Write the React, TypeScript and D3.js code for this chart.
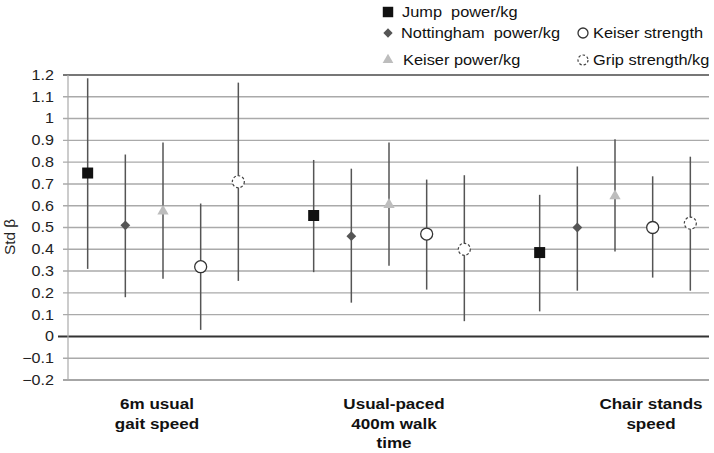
import * as d3 from "d3";

const categories = ["6m usual gait speed", "Usual-paced 400m walk time", "Chair stands speed"];
const categoryLines = [["6m usual", "gait speed"], ["Usual-paced", "400m walk", "time"], ["Chair stands", "speed"]];
const seriesNames = ["Jump  power/kg", "Nottingham  power/kg", "Keiser power/kg", "Keiser strength", "Grip strength/kg"];

const jumpEst = [0.75, 0.555, 0.385];
const jumpLo = [0.31, 0.295, 0.115];
const jumpHi = [1.185, 0.81, 0.65];
const nottEst = [0.51, 0.46, 0.5];
const nottLo = [0.18, 0.155, 0.21];
const nottHi = [0.835, 0.77, 0.78];
const kpEst = [0.575, 0.605, 0.645];
const kpLo = [0.265, 0.325, 0.39];
const kpHi = [0.89, 0.89, 0.905];
const ksEst = [0.32, 0.47, 0.5];
const ksLo = [0.03, 0.215, 0.27];
const ksHi = [0.61, 0.72, 0.735];
const gripEst = [0.71, 0.4, 0.52];
const gripLo = [0.255, 0.07, 0.21];
const gripHi = [1.165, 0.74, 0.825];

const yTicks = [-0.2, -0.1, 0, 0.1, 0.2, 0.3, 0.4, 0.5, 0.6, 0.7, 0.8, 0.9, 1, 1.1, 1.2];

const series = [
  { name: seriesNames[0], est: jumpEst, lo: jumpLo, hi: jumpHi },
  { name: seriesNames[1], est: nottEst, lo: nottLo, hi: nottHi },
  { name: seriesNames[2], est: kpEst, lo: kpLo, hi: kpHi },
  { name: seriesNames[3], est: ksEst, lo: ksLo, hi: ksHi },
  { name: seriesNames[4], est: gripEst, lo: gripLo, hi: gripHi },
];

const font = "'Liberation Sans', Arial, Helvetica, sans-serif";

function Marker({ i, x, y, legend = false }: { i: number; x: number; y: number; legend?: boolean }) {
  const k = legend ? 0.95 : 1;
  if (i === 0) {
    const p = d3.symbol(d3.symbolSquare, 121 * k * k)();
    return <path d={p || ""} transform={`translate(${x},${y})`} fill="#111" />;
  }
  if (i === 1) {
    const p = d3.symbol(d3.symbolSquare, 48 * k * k)();
    return <path d={p || ""} transform={`translate(${x},${y}) rotate(45)`} fill="#555" />;
  }
  if (i === 2) {
    const p = d3.symbol(d3.symbolTriangle, 55 * k * k)();
    return <path d={p || ""} transform={`translate(${x},${y})`} fill="#bdbdbd" />;
  }
  if (i === 3) {
    return <circle cx={x} cy={y} r={legend ? 5 : 6} fill="#fff" stroke="#333" strokeWidth={1.3} />;
  }
  return (
    <circle cx={x} cy={y} r={legend ? 5 : 6} fill="#fff" stroke="#444" strokeWidth={1.2} strokeDasharray="2.5,2" />
  );
}

export default function App() {
  const width = 714;
  const height = 453;
  const plotLeft = 68;
  const plotRight = 709;

  const y = d3.scaleLinear().domain([-0.2, 1.2]).range([380, 75]);
  const xGroup = d3.scaleBand().domain(categories).range([50, 728]);
  const xSeries = d3.scalePoint().domain(seriesNames).range([0, xGroup.bandwidth()]).padding(1);

  // category label anchors (layout)
  const labelX = [157, 394, 651];

  const legendItems = [
    { i: 0, x: 388, y: 12 },
    { i: 1, x: 388, y: 33 },
    { i: 2, x: 388, y: 60 },
    { i: 3, x: 583, y: 33 },
    { i: 4, x: 583, y: 60 },
  ];
  const legendTextX = [402, 401, 403, 593, 593];

  return (
    <svg width={width} height={height} style={{ position: "absolute", left: 0, top: 0, background: "#fff" }} fontFamily={font}>
      {yTicks.map((t) => {
        const isZero = Math.abs(t) < 1e-9;
        const isTop = Math.abs(t - 1.2) < 1e-9;
        const isBottom = Math.abs(t + 0.2) < 1e-9;
        return (
          <g key={t}>
            <line
              x1={isZero ? 58 : 63}
              x2={plotRight}
              y1={y(t)}
              y2={y(t)}
              stroke={isZero ? "#333" : isTop ? "#777" : isBottom ? "#888" : "#aaa"}
              strokeWidth={isZero || isTop ? 2 : 1.4}
            />
            <text
              transform={`translate(54,${y(t)}) scale(1.15,1)`}
              dy="0.35em"
              textAnchor="end"
              fontSize={14}
              fill="#222"
            >
              {d3.format("")(Math.round(t * 10) / 10)}
            </text>
          </g>
        );
      })}
      <line x1={plotLeft} x2={plotLeft} y1={75} y2={380} stroke="#aaa" strokeWidth={1.2} />
      <text transform={`translate(15,237) rotate(-90) scale(1.1,1)`} textAnchor="middle" fontSize={14} fill="#222">
        Std β
      </text>

      {categories.map((c, ci) => (
        <g key={c}>
          {series.map((s, si) => {
            const cx = (xGroup(c) || 0) + (xSeries(s.name) || 0);
            return (
              <g key={s.name}>
                <line x1={cx} x2={cx} y1={y(s.hi[ci])} y2={y(s.lo[ci])} stroke="#555" strokeWidth={1.5} />
                <Marker i={si} x={cx} y={y(s.est[ci])} />
              </g>
            );
          })}
          {categoryLines[ci].map((ln, li) => (
            <text
              key={li}
              transform={`translate(${labelX[ci]},${409 + li * 19.5}) scale(1.1,1)`}
              textAnchor="middle"
              fontSize={15.5}
              fontWeight="bold"
              fill="#111"
            >
              {ln}
            </text>
          ))}
        </g>
      ))}

      {legendItems.map((l, k) => (
        <g key={k}>
          <Marker i={l.i} x={l.x} y={l.y} legend />
          <text
            transform={`translate(${legendTextX[k]},${l.y + 5}) scale(1.17,1)`}
            fontSize={14}
            fill="#111"
            style={{ whiteSpace: "pre" }}
          >
            {seriesNames[l.i]}
          </text>
        </g>
      ))}
    </svg>
  );
}
